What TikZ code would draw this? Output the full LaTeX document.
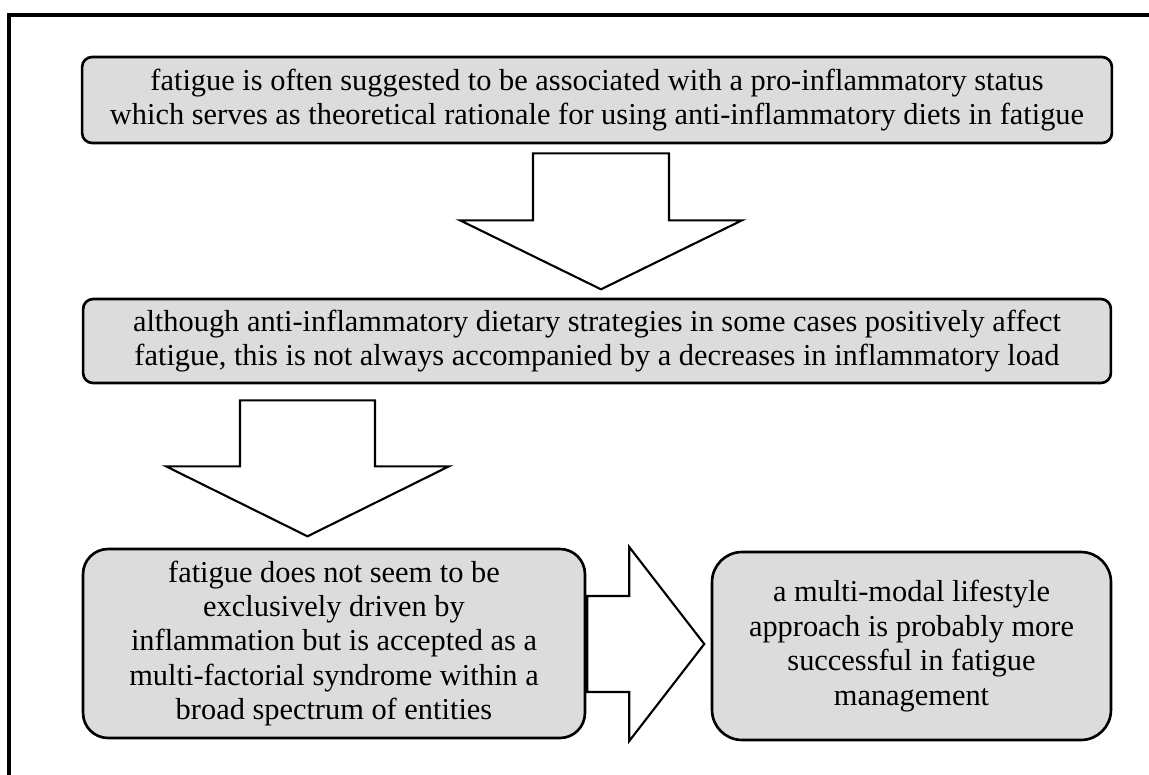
\documentclass[tikz,border=0pt]{standalone}
\usepackage{fontspec}
\setmainfont{Liberation Serif}
\usetikzlibrary{calc}

\definecolor{boxgray}{RGB}{220,220,220}
\tikzset{
	statement/.style = {draw, line width=1.5pt, fill=boxgray, rounded corners=0.2cm, align=center, inner sep=0pt, font=\fontsize{17.3}{19.6}\selectfont},
	bigarrow/.style = {draw, line width=1.2pt, fill=white, line join=miter}
}

\begin{document}
\begin{tikzpicture}[x=0.02cm, y=-0.02cm]
	\useasboundingbox (0,0) rectangle (1149,774);
	\draw [line width=1.8pt] (9,800) -- (9,15) -- (1170,15);
	\node [statement, minimum width=20.6cm, minimum height=1.72cm] (rationale) at (597,100) {fatigue is often suggested to be associated with a pro-inflammatory status\\which serves as theoretical rationale for using anti-inflammatory diets in fatigue};
	\node [statement, minimum width=20.56cm, minimum height=1.68cm] (dietary) at (597,341) {although anti-inflammatory dietary strategies in some cases positively affect\\fatigue, this is not always accompanied by a decreases in inflammatory load};
	\node [statement, rounded corners=0.5cm, minimum width=10.04cm, minimum height=3.78cm] (syndrome) at (334,643.5) {fatigue does not seem to be\\exclusively driven by\\inflammation but is accepted as a\\multi-factorial syndrome within a\\broad spectrum of entities};
	\node [statement, rounded corners=0.6cm, minimum width=7.98cm, minimum height=3.76cm] (lifestyle) at (911.5,646) {a multi-modal lifestyle\\approach is probably more\\successful in fatigue\\management};
	\draw [bigarrow, shift={($(rationale.south)+(4,9)$)}] (-68,0) -- (68,0) -- (68,67) -- (141,67) -- (0,136) -- (-141,67) -- (-68,67) -- cycle;
	\draw [bigarrow, shift={($(dietary.south)+(-289.5,16)$)}] (-67.5,0) -- (67.5,0) -- (67.5,66) -- (141.5,66) -- (0,136) -- (-141.5,66) -- (-67.5,66) -- cycle;
	\draw [bigarrow, shift={($(syndrome.east)+(1,0.5)$)}] (0,-48) -- (42,-48) -- (42,-97) -- (117,0) -- (42,97) -- (42,48) -- (0,48) -- cycle;
\end{tikzpicture}
\end{document}
